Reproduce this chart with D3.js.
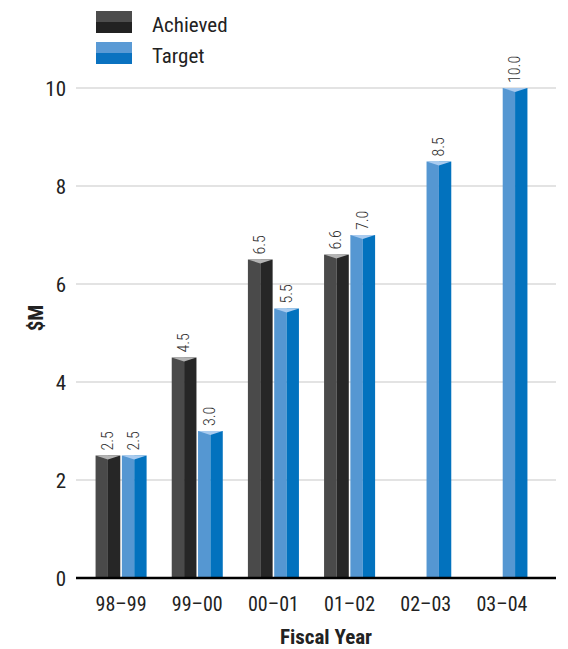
<!DOCTYPE html>
<html><head><meta charset="utf-8">
<script src="https://cdn.jsdelivr.net/npm/d3@7"></script>
<style>
body{margin:0;background:#fff;}
text{font-family:"Roboto Condensed","Liberation Sans Narrow",sans-serif;}
</style></head><body>
<svg id="c" width="568" height="649"></svg>
<script>
const categories = ["98\u201399","99\u201300","00\u201301","01\u201302","02\u201303","03\u201304"];
const seriesNames = ["Achieved","Target"];
const achieved = [2.5, 4.5, 6.5, 6.6, null, null];
const target = [2.5, 3.0, 5.5, 7.0, 8.5, 10.0];
const yTicks = [0,2,4,6,8,10];

const colors = {
  Achieved:{left:"#4a4a4a", right:"#262626", cap:"#b4b4b4"},
  Target:{left:"#5597d2", right:"#0272be", cap:"#a9cbef"}
};

const svg = d3.select("#c");
const x = d3.scaleBand().domain(categories).range([83,540]).paddingInner(0.33).paddingOuter(0.165);
const xs = d3.scaleBand().domain(seriesNames).range([0,x.bandwidth()]).paddingInner(0.06);
const y = d3.scaleLinear().domain([0,10]).range([578,88]);

// gridlines
svg.append("g").selectAll("line").data(yTicks.filter(d=>d>0)).join("line")
  .attr("x1",76).attr("x2",556).attr("y1",d=>y(d)).attr("y2",d=>y(d))
  .attr("stroke","#c8c8c8").attr("stroke-width",1.2);

// y tick labels
svg.append("g").selectAll("text").data(yTicks).join("text")
  .attr("x",66).attr("y",d=>y(d)+7.5).attr("text-anchor","end")
  .attr("font-size",21).attr("fill","#222").text(d=>d);

const data = [];
categories.forEach((c,i)=>{
  data.push({cat:c, s:"Achieved", v:achieved[i]});
  data.push({cat:c, s:"Target", v:target[i]});
});
const bars = data.filter(d=>d.v!=null);

const g = svg.append("g");
bars.forEach(d=>{
  const x0 = x(d.cat)+xs(d.s), w = xs.bandwidth(), top = y(d.v), bot = y(0);
  const col = colors[d.s];
  g.append("rect").attr("x",x0).attr("y",top).attr("width",w/2).attr("height",bot-top).attr("fill",col.left);
  g.append("rect").attr("x",x0+w/2).attr("y",top).attr("width",w/2).attr("height",bot-top).attr("fill",col.right);
  g.append("path").attr("d",`M${x0},${top}L${x0+w},${top}L${x0+w/2},${top+4}Z`).attr("fill",col.cap);
  g.append("text").attr("transform",`translate(${x0+w/2+5},${top-5}) rotate(-90)`)
    .attr("font-size",16).attr("font-weight",300).attr("fill","#333").text(d3.format(".1f")(d.v));
});

// baseline
svg.append("line").attr("x1",76).attr("x2",556).attr("y1",y(0)).attr("y2",y(0)).attr("stroke","#000").attr("stroke-width",2.5);

// x labels
svg.append("g").selectAll("text").data(categories).join("text")
  .attr("x",d=>x(d)+x.bandwidth()/2).attr("y",611).attr("text-anchor","middle")
  .attr("font-size",20).attr("fill","#222").text(d=>d);

// axis titles
svg.append("text").attr("x",326).attr("y",644).attr("text-anchor","middle")
  .attr("font-size",21).attr("font-weight","bold").attr("fill","#222").text("Fiscal Year");
svg.append("text").attr("transform","translate(43,318) rotate(-90)").attr("text-anchor","middle")
  .attr("font-size",21).attr("font-weight","bold").attr("fill","#222").text("$M");

// legend
const leg = svg.append("g");
seriesNames.forEach((s,i)=>{
  const ly = 11 + i*31;
  leg.append("rect").attr("x",96).attr("y",ly).attr("width",36).attr("height",11).attr("fill",i==0?"#4d4d4d":"#5a9ad5");
  leg.append("rect").attr("x",96).attr("y",ly+11).attr("width",36).attr("height",11).attr("fill",i==0?"#222":"#0a72c0");
  leg.append("text").attr("x",152).attr("y",ly+21).attr("font-size",21).attr("fill","#222").text(s);
});
</script></body></html>
